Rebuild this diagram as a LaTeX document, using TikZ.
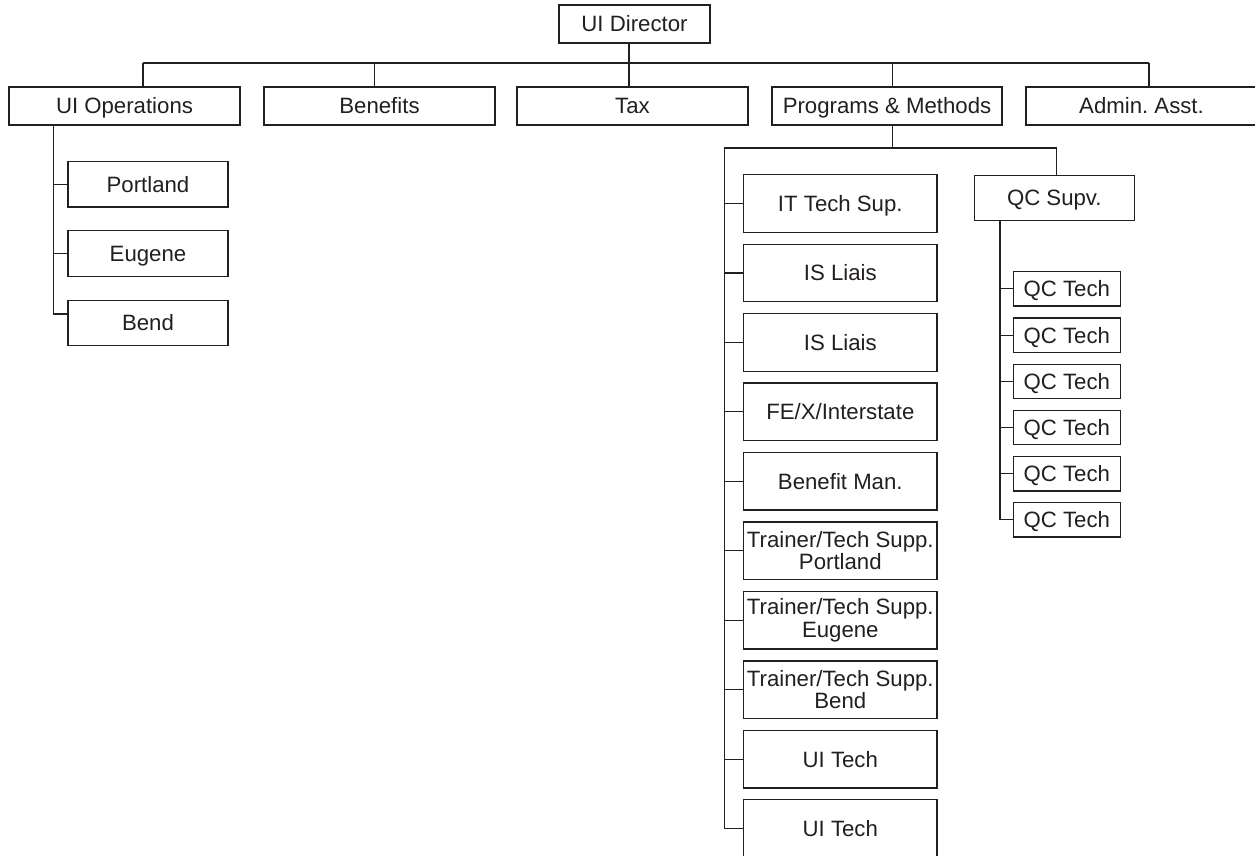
\documentclass[tikz,border=0pt]{standalone}
\usepackage{fontspec}
\setmainfont{Liberation Sans}
\frenchspacing
\definecolor{ink}{RGB}{35,31,32}
\begin{document}
\begin{tikzpicture}[x=1pt,y=-1pt,
  box/.style={draw=ink,line width=1.3pt,inner sep=0pt,outer sep=0pt,
    text=ink,align=center,font=\fontsize{22.2}{22.6}\selectfont},
  oneline/.style={box,text height=15.9pt,text depth=0pt},
  topbox/.style={oneline,minimum width=231,minimum height=38},
  officebox/.style={oneline,minimum width=160,minimum height=45.5},
  staffbox/.style={oneline,minimum width=193.3,minimum height=57.5},
  twoline/.style={box,minimum width=193.3,minimum height=57.5},
  qcbox/.style={oneline,minimum width=107,minimum height=34.3},
  link/.style={draw=ink,line width=1.1pt}]
\fill[white] (0,0) rectangle (1255,856);
\clip (0,0) rectangle (1255,856);

% top level
\node[oneline,minimum width=151,minimum height=38] (dir) at (634.5,24) {UI Director};
\node[topbox] (uiops) at (124.5,106) {UI Operations};
\node[topbox] (ben)   at (379.5,106) {Benefits};
\node[topbox] (tax)   at (632.5,106) {Tax};
\node[topbox,minimum width=230] (pm) at (887,106) {Programs \& Methods};
\node[topbox] (adm)   at (1141.5,106) {Admin. Asst.};

% bus under the director
\coordinate (b1) at (143,63);
\coordinate (b2) at (374.5,63);
\coordinate (b3) at (629,63);
\coordinate (b4) at (892.7,63);
\coordinate (b5) at (1149,63);
\draw[link] (b1) -- (b5);
\draw[link] (dir.south -| b3) -- (b3 |- tax.north);
\draw[link] (b1) -- (b1 |- uiops.north);
\draw[link] (b2) -- (b2 |- ben.north);
\draw[link] (b4) -- (b4 |- pm.north);
\draw[link] (b5) -- (b5 |- adm.north);

% UI Operations offices
\node[officebox] (port) at (148,184.3) {Portland};
\node[officebox] (eug)  at (148,253.5) {Eugene};
\node[officebox] (bend) at (148,323)   {Bend};
\coordinate (uoEnd) at (53.3,314);
\draw[link] (uoEnd |- uiops.south) -- (uoEnd);
\draw[link] (uoEnd |- port.west) -- (port.west);
\draw[link] (uoEnd |- eug.west) -- (eug.west);
\draw[link] (uoEnd) -- (uoEnd -| bend.west);

% Programs & Methods staff
\foreach \n/\t/\s [count=\i from 0] in {
  s0/{IT Tech Sup.}/staffbox,
  s1/{IS Liais}/staffbox,
  s2/{IS Liais}/staffbox,
  s3/{FE/X/Interstate}/staffbox,
  s4/{Benefit Man.}/staffbox,
  s5/{Trainer/Tech Supp.\\Portland}/twoline,
  s6/{Trainer/Tech Supp.\\Eugene}/twoline,
  s7/{Trainer/Tech Supp.\\Bend}/twoline,
  s8/{UI Tech}/staffbox,
  s9/{UI Tech}/staffbox}
  \node[\s] (\n) at (840.3,{203.5+69.45*\i}) {\t};

\coordinate (pmBus) at (892.7,148);
\coordinate (pmL) at (724.3,148);
\coordinate (qcTop) at (1056.7,148);
\draw[link] (pmBus |- pm.south) -- (pmBus);
\draw[link] (pmL) -- (qcTop);
\draw[link] (pmL) -- (pmL |- s9.west);
\foreach \n in {s0,s1,s2,s3,s4,s5,s6,s7,s8,s9}
  \draw[link] (pmL |- \n.west) -- (\n.west);

% QC section
\node[oneline,minimum width=160,minimum height=45.4] (qcs) at (1054.3,198) {QC Supv.};
\draw[link] (qcTop) -- (qcTop |- qcs.north);
\foreach \i in {0,...,5}
  \node[qcbox] (q\i) at (1066.8,{288.9+46.2*\i}) {QC Tech};
\coordinate (qcL) at (1000,220.7);
\draw[link] (qcL |- qcs.south) -- (qcL |- q5.west);
\foreach \i in {0,...,5}
  \draw[link] (qcL |- q\i.west) -- (q\i.west);
\end{tikzpicture}
\end{document}
